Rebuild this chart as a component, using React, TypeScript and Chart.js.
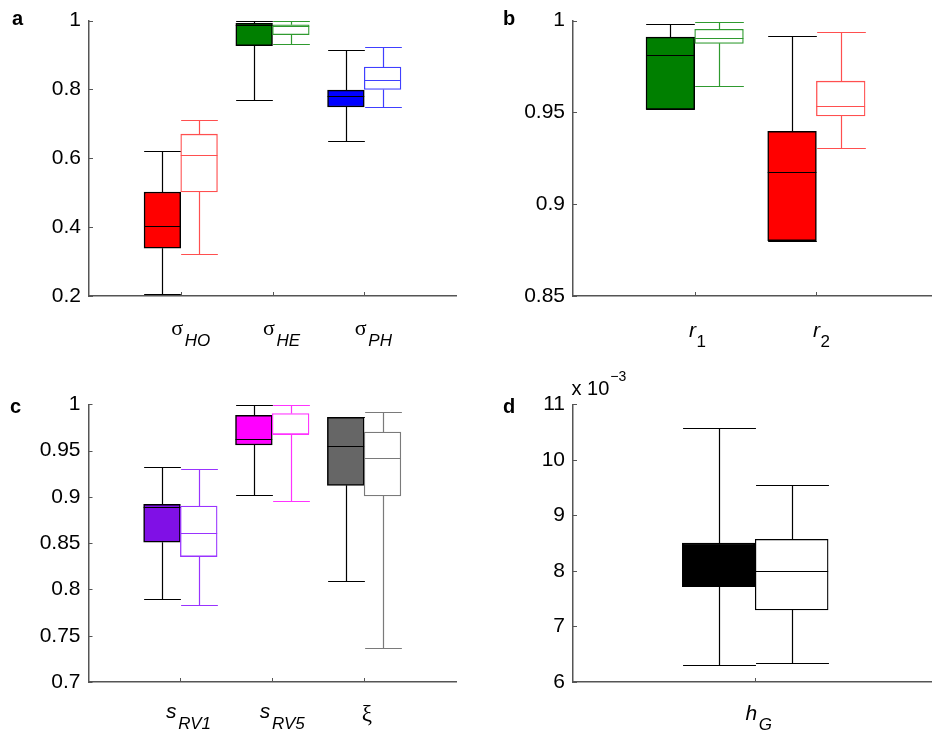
import React, { useEffect, useRef } from 'react';
import { Chart, registerables } from 'chart.js';
Chart.register(...registerables);

// ---------------- Panel a ----------------
const aPositions = [1, 2, 3];
const aNames = ['σ', 'σ', 'σ'];
const aSubs = ['HO', 'HE', 'PH'];
const aFilledMin = [0.205, 0.770, 0.651];
const aFilledQ1 = [0.339, 0.927, 0.749];
const aFilledMed = [0.402, 0.988, 0.780];
const aFilledQ3 = [0.502, 0.992, 0.798];
const aFilledMax = [0.622, 0.999, 0.915];
const aHollowMin = [0.322, 0.933, 0.748];
const aHollowQ1 = [0.502, 0.959, 0.800];
const aHollowMed = [0.609, 0.985, 0.826];
const aHollowQ3 = [0.670, 0.988, 0.865];
const aHollowMax = [0.711, 0.999, 0.923];
const aFillColors = ['#ff0000', '#007f00', '#0000ff'];
const aHollowColors = ['#ff4f4f', '#2f9a2f', '#4040ff'];

// ---------------- Panel b ----------------
const bPositions = [1, 2];
const bNames = ['r', 'r'];
const bSubs = ['1', '2'];
const bFilledMin = [0.9516, 0.8801];
const bFilledQ1 = [0.9516, 0.8801];
const bFilledMed = [0.981, 0.9177];
const bFilledQ3 = [0.991, 0.9397];
const bFilledMax = [0.998, 0.9915];
const bHollowMin = [0.9643, 0.9305];
const bHollowQ1 = [0.9876, 0.9481];
const bHollowMed = [0.9906, 0.9534];
const bHollowQ3 = [0.9953, 0.967];
const bHollowMax = [0.9993, 0.9937];
const bFillColors = ['#007f00', '#ff0000'];
const bHollowColors = ['#2f9a2f', '#ff4f4f'];

// ---------------- Panel c ----------------
const cPositions = [1, 2, 3];
const cNames = ['s', 's', 'ξ'];
const cSubs = ['RV1', 'RV5', ''];
const cFilledMin = [0.790, 0.902, 0.809];
const cFilledQ1 = [0.851, 0.956, 0.9125];
const cFilledMed = [0.889, 0.963, 0.955];
const cFilledQ3 = [0.892, 0.988, 0.986];
const cFilledMax = [0.932, 0.999, 0.986];
const cHollowMin = [0.783, 0.896, 0.737];
const cHollowQ1 = [0.8355, 0.9676, 0.901];
const cHollowMed = [0.861, 0.968, 0.942];
const cHollowQ3 = [0.890, 0.990, 0.970];
const cHollowMax = [0.930, 0.999, 0.992];
const cFillColors = ['#8010e6', '#ff00ff', '#666666'];
const cHollowColors = ['#9933ff', '#ff33ff', '#7a7a7a'];

// ---------------- Panel d (values in units of 10^-3) ----------------
const dPositions = [1];
const dNames = ['h'];
const dSubs = ['G'];
const dFilledMin = [6.312];
const dFilledQ1 = [7.717];
const dFilledMed = [8.1];
const dFilledQ3 = [8.503];
const dFilledMax = [10.568];
const dHollowMin = [6.348];
const dHollowQ1 = [7.297];
const dHollowMed = [7.993];
const dHollowQ3 = [8.569];
const dHollowMax = [9.553];
const dFillColors = ['#000000'];
const dHollowColors = ['#000000'];

const SANS = '"Liberation Sans", Arial, Helvetica, sans-serif';
const SERIF = '"Liberation Serif", "Times New Roman", serif';
const AXIS = '#555555';

type Stats = { min: number[]; q1: number[]; med: number[]; q3: number[]; max: number[] };
type LabelStyle = { mainFont: string[]; subFont: string; dx: number[]; dy: number[]; subDy: number; gap: number };
type Panel = {
  x: number; y: number; w: number; h: number;
  area: { left: number; top: number; right: number; bottom: number };
  xMax: number; yMin: number; yMax: number; yStep: number; dec: number;
  positions: number[]; names: string[]; subs: string[];
  filled: Stats; hollow: Stats; fillColors: string[]; hollowColors: string[];
  label: LabelStyle;
  letter: string; letterX: number; letterY: number;
  exponent?: boolean;
};

const st = (min: number[], q1: number[], med: number[], q3: number[], max: number[]): Stats => ({ min, q1, med, q3, max });

const PANELS: Panel[] = [
  {
    x: 0, y: 0, w: 466, h: 360,
    area: { left: 89, top: 18, right: 456, bottom: 296 },
    xMax: 4, yMin: 0.2, yMax: 1, yStep: 0.2, dec: 1,
    positions: aPositions, names: aNames, subs: aSubs,
    filled: st(aFilledMin, aFilledQ1, aFilledMed, aFilledQ3, aFilledMax),
    hollow: st(aHollowMin, aHollowQ1, aHollowMed, aHollowQ3, aHollowMax),
    fillColors: aFillColors, hollowColors: aHollowColors,
    label: { mainFont: [`22px ${SERIF}`, `22px ${SERIF}`, `22px ${SERIF}`], subFont: `italic 17px ${SANS}`, dx: [-9.5, -9.5, -9.5], dy: [39, 39, 39], subDy: 50, gap: 1.7 },
    letter: 'a', letterX: 12, letterY: 25,
  },
  {
    x: 466, y: 0, w: 466, h: 360,
    area: { left: 107, top: 18, right: 466, bottom: 296 },
    xMax: 2.95, yMin: 0.85, yMax: 1, yStep: 0.05, dec: 2,
    positions: bPositions, names: bNames, subs: bSubs,
    filled: st(bFilledMin, bFilledQ1, bFilledMed, bFilledQ3, bFilledMax),
    hollow: st(bHollowMin, bHollowQ1, bHollowMed, bHollowQ3, bHollowMax),
    fillColors: bFillColors, hollowColors: bHollowColors,
    label: { mainFont: [`italic 21px ${SANS}`, `italic 21px ${SANS}`], subFont: `17px ${SANS}`, dx: [-5.6, -3.5], dy: [41, 41], subDy: 51, gap: 0.5 },
    letter: 'b', letterX: 37, letterY: 25,
  },
  {
    x: 0, y: 360, w: 466, h: 374,
    area: { left: 88.5, top: 44.3, right: 456, bottom: 322 },
    xMax: 4, yMin: 0.7, yMax: 1, yStep: 0.05, dec: 2,
    positions: cPositions, names: cNames, subs: cSubs,
    filled: st(cFilledMin, cFilledQ1, cFilledMed, cFilledQ3, cFilledMax),
    hollow: st(cHollowMin, cHollowQ1, cHollowMed, cHollowQ3, cHollowMax),
    fillColors: cFillColors, hollowColors: cHollowColors,
    label: { mainFont: [`italic 21px ${SANS}`, `italic 21px ${SANS}`, `23px ${SERIF}`], subFont: `italic 17px ${SANS}`, dx: [-14.3, -12.4, -2.5], dy: [36, 36, 39], subDy: 47, gap: 1.7 },
    letter: 'c', letterX: 10, letterY: 53,
  },
  {
    x: 466, y: 360, w: 466, h: 374,
    area: { left: 107, top: 44.3, right: 466, bottom: 322 },
    xMax: 1.97, yMin: 6, yMax: 11, yStep: 1, dec: 0,
    positions: dPositions, names: dNames, subs: dSubs,
    filled: st(dFilledMin, dFilledQ1, dFilledMed, dFilledQ3, dFilledMax),
    hollow: st(dHollowMin, dHollowQ1, dHollowMed, dHollowQ3, dHollowMax),
    fillColors: dFillColors, hollowColors: dHollowColors,
    label: { mainFont: [`italic 21px ${SANS}`], subFont: `italic 17px ${SANS}`, dx: [-9.7], dy: [38], subDy: 48, gap: 1.5 },
    letter: 'd', letterX: 37, letterY: 53,
    exponent: true,
  },
];

const OFF = 0.2; // half distance between paired boxes (also box half width)

function makePlugin(p: Panel) {
  const snap = (v: number) => Math.round(v) + 0.5;
  const drawWhiskers = (chart: any, s: Stats, off: number, colors: string[]) => {
    const { ctx } = chart;
    const xs = chart.scales.x;
    const ys = chart.scales.y;
    const half = Math.abs(xs.getPixelForValue(OFF) - xs.getPixelForValue(0));
    p.positions.forEach((pos, i) => {
      const cx = snap(xs.getPixelForValue(pos + off));
      const yMax = snap(ys.getPixelForValue(s.max[i]));
      const yQ3 = ys.getPixelForValue(s.q3[i]);
      const yMin = snap(ys.getPixelForValue(s.min[i]));
      const yQ1 = ys.getPixelForValue(s.q1[i]);
      ctx.save();
      ctx.strokeStyle = colors[i];
      ctx.lineWidth = 1.2;
      ctx.beginPath();
      ctx.moveTo(cx, yQ3); ctx.lineTo(cx, yMax);
      ctx.moveTo(cx - half, yMax); ctx.lineTo(cx + half, yMax);
      ctx.moveTo(cx, yQ1); ctx.lineTo(cx, yMin);
      ctx.moveTo(cx - half, yMin); ctx.lineTo(cx + half, yMin);
      ctx.stroke();
      ctx.restore();
    });
  };
  const drawMedians = (chart: any, s: Stats, off: number, colors: string[]) => {
    const { ctx } = chart;
    const xs = chart.scales.x;
    const ys = chart.scales.y;
    const half = Math.abs(xs.getPixelForValue(OFF) - xs.getPixelForValue(0));
    p.positions.forEach((pos, i) => {
      const cx = xs.getPixelForValue(pos + off);
      const y = snap(ys.getPixelForValue(s.med[i]));
      ctx.save();
      ctx.strokeStyle = colors[i];
      ctx.lineWidth = 1.2;
      ctx.beginPath();
      ctx.moveTo(cx - half, y); ctx.lineTo(cx + half, y);
      ctx.stroke();
      ctx.restore();
    });
  };
  return {
    id: 'boxExtras',
    beforeDatasetsDraw(chart: any) {
      drawWhiskers(chart, p.hollow, OFF, p.hollowColors);
      drawWhiskers(chart, p.filled, -OFF, p.filled.min.map(() => '#000000'));
    },
    afterDatasetsDraw(chart: any) {
      drawMedians(chart, p.hollow, OFF, p.hollowColors);
      drawMedians(chart, p.filled, -OFF, p.filled.min.map(() => '#000000'));
    },
    afterDraw(chart: any) {
      const { ctx, chartArea } = chart;
      const xs = chart.scales.x;
      const ys = chart.scales.y;
      ctx.save();
      // inward tick marks
      ctx.strokeStyle = AXIS;
      ctx.lineWidth = 1;
      ctx.beginPath();
      ys.ticks.forEach((t: any) => {
        const y = snap(ys.getPixelForValue(t.value));
        ctx.moveTo(chartArea.left, y); ctx.lineTo(chartArea.left + 4, y);
      });
      p.positions.forEach((pos) => {
        const x = snap(xs.getPixelForValue(pos));
        ctx.moveTo(x, chartArea.bottom); ctx.lineTo(x, chartArea.bottom - 4);
      });
      ctx.stroke();
      // category labels with subscripts
      ctx.fillStyle = '#000';
      ctx.textAlign = 'left';
      ctx.textBaseline = 'alphabetic';
      p.positions.forEach((pos, i) => {
        const x = xs.getPixelForValue(pos) + p.label.dx[i];
        ctx.font = p.label.mainFont[i];
        ctx.fillText(p.names[i], x, chartArea.bottom + p.label.dy[i]);
        const w = ctx.measureText(p.names[i]).width;
        if (p.subs[i]) {
          ctx.font = p.label.subFont;
          ctx.fillText(p.subs[i], x + w + p.label.gap, chartArea.bottom + p.label.subDy);
        }
      });
      // panel letter
      ctx.font = `bold 20px ${SANS}`;
      ctx.fillText(p.letter, p.letterX, p.letterY);
      if (p.exponent) {
        ctx.font = `20px ${SANS}`;
        const base = 'x 10';
        ctx.fillText(base, 105.5, 35);
        const bw = ctx.measureText(base).width;
        ctx.font = `14px ${SANS}`;
        ctx.fillText('−3', 105.5 + bw + 1, 21);
      }
      ctx.restore();
    },
  };
}

function makeChart(canvas: HTMLCanvasElement, p: Panel) {
  const filledData = p.positions.map((pos, i) => ({ x: pos - OFF, y: [p.filled.q1[i], p.filled.q3[i]] }));
  const hollowData = p.positions.map((pos, i) => ({ x: pos + OFF, y: [p.hollow.q1[i], p.hollow.q3[i]] }));
  const barCommon = {
    borderSkipped: false,
    grouped: false,
    barPercentage: 1,
    categoryPercentage: 1,
  };
  return new Chart(canvas, {
    type: 'bar',
    data: {
      datasets: [
        {
          ...barCommon,
          label: 'hollow',
          data: hollowData as any,
          borderWidth: 1.3,
          backgroundColor: p.hollowColors.map(() => '#ffffff'),
          borderColor: p.hollowColors,
        },
        {
          ...barCommon,
          label: 'filled',
          data: filledData as any,
          borderWidth: 1.5,
          backgroundColor: p.fillColors,
          borderColor: p.fillColors.map(() => '#000000'),
        },
      ] as any,
    },
    options: {
      animation: false,
      responsive: false,
      devicePixelRatio: 1,
      layout: { padding: { left: 0, top: p.area.top, right: p.w - p.area.right, bottom: 0 } },
      plugins: { legend: { display: false }, tooltip: { enabled: false } },
      scales: {
        x: {
          type: 'linear',
          min: 0,
          max: p.xMax,
          offset: false,
          ticks: { display: false, stepSize: 1 },
          grid: { display: false, drawTicks: false },
          border: { display: true, color: AXIS, width: 1.5 },
          afterFit: (scale: any) => { scale.height = p.h - p.area.bottom; },
        },
        y: {
          type: 'linear',
          min: p.yMin,
          max: p.yMax,
          ticks: {
            stepSize: p.yStep,
            padding: 8,
            color: '#000',
            font: { family: SANS, size: 21 },
            callback: (v: any) => String(Number(Number(v).toFixed(p.dec))),
          },
          grid: { display: false, drawTicks: false },
          border: { display: true, color: AXIS, width: 1.5 },
          afterFit: (scale: any) => { scale.width = p.area.left; },
        },
      },
    } as any,
    plugins: [makePlugin(p)],
  });
}

export default function App() {
  const refs = useRef<(HTMLCanvasElement | null)[]>([]);
  useEffect(() => {
    const charts = PANELS.map((p, i) => makeChart(refs.current[i] as HTMLCanvasElement, p));
    return () => charts.forEach((c) => c.destroy());
  }, []);
  return (
    <div style={{ position: 'absolute', left: 0, top: 0, width: 932, height: 734, overflow: 'hidden', background: '#ffffff' }}>
      {PANELS.map((p, i) => (
        <canvas
          key={i}
          ref={(el) => { refs.current[i] = el; }}
          width={p.w}
          height={p.h}
          style={{ position: 'absolute', left: p.x, top: p.y, width: p.w, height: p.h }}
        />
      ))}
    </div>
  );
}
